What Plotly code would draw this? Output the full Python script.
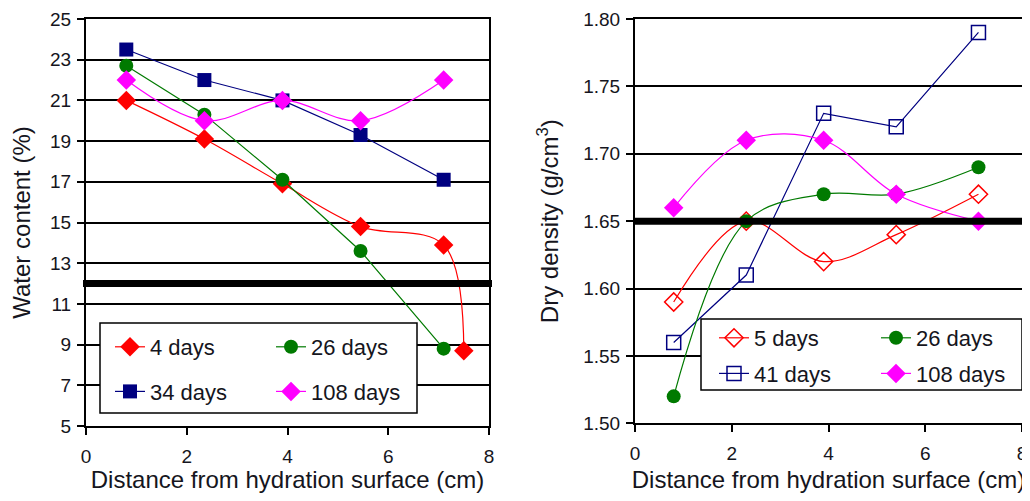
import plotly.graph_objects as go

# ---------------- data ----------------
# Left panel: water content (%)
x_wc_4d = [0.8, 2.35, 3.9, 5.45, 7.1, 7.5]
wc_4d = [21.0, 19.1, 16.9, 14.8, 13.9, 8.7]
x_wc = [0.8, 2.35, 3.9, 5.45, 7.1]
wc_26d = [22.7, 20.3, 17.1, 13.6, 8.8]
wc_34d = [23.5, 22.0, 21.0, 19.3, 17.1]
wc_108d = [22.0, 20.0, 21.0, 20.0, 22.0]
wc_reference = 12

# Right panel: dry density (g/cm3)
x_dd = [0.8, 2.3, 3.9, 5.4, 7.1]
dd_5d = [1.59, 1.65, 1.62, 1.64, 1.67]
dd_26d = [1.52, 1.65, 1.67, 1.67, 1.69]
dd_41d = [1.56, 1.61, 1.73, 1.72, 1.79]
dd_108d = [1.66, 1.71, 1.71, 1.67, 1.65]
dd_reference = 1.65

x_title = "Distance from hydration surface (cm)"
FONT = "Liberation Sans, Arial, sans-serif"
TXT = "#151520"

RED, GREEN, NAVY, MAG = "#ff0000", "#007a00", "#000080", "#ff00ff"

OFF = 8  # page body margin
W, H = 1022, 485
MT = 19 - OFF
MB = H - (426 - OFF)
PH = H - MT - MB


def px(xp):
    return (xp - OFF) / W


def py(yp):
    return (H - MB - (yp - OFF)) / PH


fig = go.Figure()


def add(x, y, name, color, symbol, size, xa, ya, legend, shape, group, filled=True):
    fig.add_trace(go.Scatter(
        x=x, y=y, name=name, mode="lines+markers",
        xaxis=xa, yaxis=ya, legend=legend, legendgroup=group,
        line=dict(color=color, width=1.2, shape=shape, smoothing=1.0),
        marker=dict(symbol=symbol, size=size, color=color,
                    line=dict(color=color, width=1.5 if not filled else 0)),
    ))


# Left
add(x_wc_4d, wc_4d, "4 days", RED, "diamond", 15, "x", "y", "legend", "spline", "a")
add(x_wc, wc_34d, "34 days", NAVY, "square", 14, "x", "y", "legend", "linear", "b")
add(x_wc, wc_26d, "26 days", GREEN, "circle", 14, "x", "y", "legend2", "linear", "c")
add(x_wc, wc_108d, "108 days", MAG, "diamond", 15, "x", "y", "legend2", "spline", "d")

# Right
add(x_dd, dd_5d, "5 days", RED, "diamond-open", 14, "x2", "y2", "legend3", "spline", "e", filled=False)
add(x_dd, dd_41d, "41 days", NAVY, "square-open", 14, "x2", "y2", "legend3", "linear", "f", filled=False)
add(x_dd, dd_26d, "26 days", GREEN, "circle", 14, "x2", "y2", "legend4", "spline", "g")
add(x_dd, dd_108d, "108 days", MAG, "diamond", 15, "x2", "y2", "legend4", "spline", "h")

axis_common = dict(
    showline=True, linecolor="black", linewidth=2, mirror=True,
    ticks="outside", ticklen=7, tickwidth=1.5, tickcolor="black",
    tickfont=dict(family=FONT, size=19, color=TXT),
    automargin=False, zeroline=False,
)

leg_common = dict(
    bgcolor="rgba(0,0,0,0)", borderwidth=0, orientation="v",
    font=dict(family=FONT, size=22, color=TXT),
    xanchor="left", yanchor="top", itemsizing="trace",
)

title_font = dict(family=FONT, size=24, color=TXT)

fig.update_layout(
    width=W, height=H,
    margin=dict(l=0, r=0, t=MT, b=MB),
    paper_bgcolor="white", plot_bgcolor="white",
    template="none",
    xaxis=dict(domain=[px(86), px(489)], range=[0, 8], dtick=2, tick0=0,
               showgrid=False, anchor="y", ticklabelstandoff=5,
               title=dict(text=x_title, font=title_font, standoff=14),
               **axis_common),
    yaxis=dict(domain=[0, 1], range=[5, 25], dtick=2, tick0=5, anchor="x",
               showgrid=True, gridcolor="black", gridwidth=1.5, ticklabelstandoff=2,
               title=dict(text="Water content (%)", font=title_font, standoff=14),
               **axis_common),
    xaxis2=dict(domain=[px(635), px(1022)], range=[0, 8], dtick=2, tick0=0,
                showgrid=False, anchor="y2", ticklabelstandoff=5,
                title=dict(text=x_title, font=title_font, standoff=14),
                **axis_common),
    yaxis2=dict(domain=[py(423.3), 1], range=[1.5, 1.8], dtick=0.05, tick0=1.5, anchor="x2",
                tickformat=".2f", ticklabelstandoff=2,
                showgrid=True, gridcolor="black", gridwidth=1.5,
                title=dict(text="Dry density (g/cm<sup>3</sup>)", font=title_font, standoff=18),
                **axis_common),
    legend=dict(x=px(110), y=py(326), tracegroupgap=13, **leg_common),
    legend2=dict(x=px(271), y=py(326), tracegroupgap=13, **leg_common),
    legend3=dict(x=px(714), y=py(317), tracegroupgap=4, **leg_common),
    legend4=dict(x=px(876), y=py(317), tracegroupgap=4, **leg_common),
    shapes=[
        dict(type="line", xref="paper", yref="y", x0=px(83), x1=px(492),
             y0=wc_reference, y1=wc_reference, line=dict(color="black", width=7), layer="above"),
        dict(type="line", xref="paper", yref="y2", x0=px(633), x1=1.0,
             y0=dd_reference, y1=dd_reference, line=dict(color="black", width=7), layer="above"),
        dict(type="rect", xref="paper", yref="paper", x0=px(100), x1=px(417),
             y0=py(413), y1=py(323), line=dict(color="black", width=1.5),
             fillcolor="white", layer="above"),
        dict(type="rect", xref="paper", yref="paper", x0=px(701), x1=px(1022),
             y0=py(390), y1=py(319), line=dict(color="black", width=1.5),
             fillcolor="white", layer="above"),
    ],
    showlegend=True,
)

fig.write_html("out.html")
